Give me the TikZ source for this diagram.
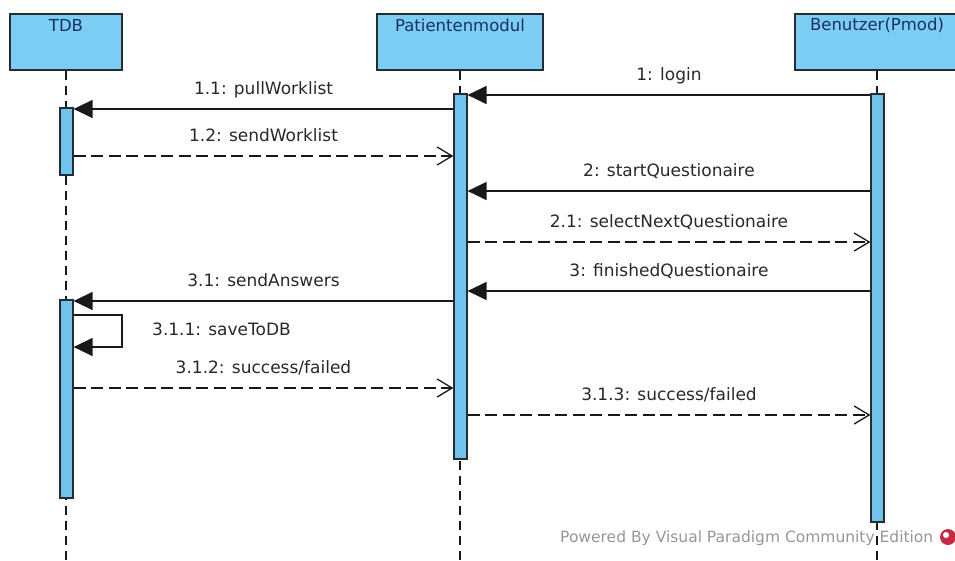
\documentclass[tikz,border=0pt]{standalone}
\usepackage{fontspec}
\setmainfont{DejaVu Sans}
\usetikzlibrary{arrows.meta}

\definecolor{headfill}{RGB}{124,205,243}
\definecolor{barfill}{RGB}{112,195,237}
\definecolor{headtext}{RGB}{28,48,96}
\definecolor{outline}{RGB}{38,44,52}
\definecolor{msgtext}{RGB}{40,40,40}
\definecolor{markgray}{RGB}{150,150,150}
\definecolor{markred}{RGB}{196,44,70}

\tikzset{
  headbox/.style={draw=outline, fill=headfill, line width=1.4pt,
    minimum height=56pt, inner sep=0pt},
  headlabel/.style={inner sep=0pt, text=headtext,
    font=\fontsize{16.5}{19}\selectfont},
  lifeline/.style={draw=black!90, line width=1.2pt, dash pattern=on 9pt off 6pt},
  actbar/.style={draw=outline, fill=barfill, line width=1.2pt,
    minimum width=13pt, inner sep=0pt},
  sync/.style={draw=black!90, line width=1.3pt,
    -{Triangle[length=19pt,width=18pt]}},
  reply/.style={draw=black!90, line width=1.3pt, dash pattern=on 12pt off 5.5pt,
    -{Straight Barb[length=15pt,width=18pt]}},
  msg/.style={midway, yshift=19pt, inner sep=0pt, text=msgtext,
    text height=12pt, text depth=3.5pt, font=\fontsize{17}{20}\selectfont},
  msgfree/.style={inner sep=0pt, text=msgtext,
    text height=12pt, text depth=3.5pt, font=\fontsize{17}{20}\selectfont},
  watermark/.style={inner sep=0pt, text=markgray, font=\fontsize{15.5}{18}\selectfont}
}

\begin{document}
\begin{tikzpicture}[x=1pt,y=-1pt]
\useasboundingbox (0,0) rectangle (955,560);

% lifeline heads
\node[headbox, minimum width=112pt] (tdb) at (66,42) {};
\node[headbox, minimum width=166pt] (pm)  at (460,42) {};
\node[headbox, minimum width=164pt] (ben) at (877,42) {};
\node[headlabel] (tdbname) at (66,25)  {TDB};
\node[headlabel] (pmname)  at (460,25) {Patientenmodul};
\node[headlabel] (benname) at (877,25) {Benutzer(Pmod)};

% dashed lifelines
\coordinate (tdbend) at (66,560);
\coordinate (pmend)  at (460,560);
\coordinate (benend) at (877,560);
\draw[lifeline] (tdb.south) -- (tdbend);
\draw[lifeline] (pm.south)  -- (pmend);
\draw[lifeline] (ben.south) -- (benend);

% activation bars
\node[actbar, minimum height=67pt]  (tdbact1) at (66.5,141.5) {};
\node[actbar, minimum height=198pt] (tdbact2) at (66.5,399) {};
\node[actbar, minimum height=365pt] (pmact)   at (460.5,276.5) {};
\node[actbar, minimum height=428pt] (benact)  at (877.5,308) {};

% message rows
\coordinate (y1)   at (0,95);
\coordinate (y11)  at (0,109);
\coordinate (y12)  at (0,156);
\coordinate (y2)   at (0,191);
\coordinate (y21)  at (0,242);
\coordinate (y3)   at (0,291);
\coordinate (y31)  at (0,301);
\coordinate (y312) at (0,388);
\coordinate (y313) at (0,415);

\draw[sync]  (benact.west |- y1)  -- node[msg] {1: login} (pmact.east |- y1);
\draw[sync]  (pmact.west |- y11)  -- node[msg] {1.1: pullWorklist} (tdbact1.east |- y11);
\draw[reply] (tdbact1.east |- y12) -- node[msg] {1.2: sendWorklist} (pmact.west |- y12);
\draw[sync]  (benact.west |- y2)  -- node[msg] {2: startQuestionaire} (pmact.east |- y2);
\draw[reply] (pmact.east |- y21)  -- node[msg] {2.1: selectNextQuestionaire} (benact.west |- y21);
\draw[sync]  (benact.west |- y3)  -- node[msg] {3: finishedQuestionaire} (pmact.east |- y3);
\draw[sync]  (pmact.west |- y31)  -- node[msg] {3.1: sendAnswers} (tdbact2.east |- y31);

% self call on TDB
\coordinate (loopa) at (122,315);
\coordinate (loopb) at (122,347);
\draw[sync] (tdbact2.east |- loopa) -- (loopa) -- (loopb) -- (tdbact2.east |- loopb);
\node[msgfree, anchor=west] (savelabel) at (152,331) {3.1.1: saveToDB};

\draw[reply] (tdbact2.east |- y312) -- node[msg] {3.1.2: success/failed} (pmact.west |- y312);
\draw[reply] (pmact.east |- y313)  -- node[msg] {3.1.3: success/failed} (benact.west |- y313);

% edition mark
\node[watermark, anchor=west] (mark) at (560,538) {Powered By Visual Paradigm Community Edition};
\fill[markred] (948,537) circle (8pt);
\fill[white] (946,535) circle (3pt);
\end{tikzpicture}
\end{document}
